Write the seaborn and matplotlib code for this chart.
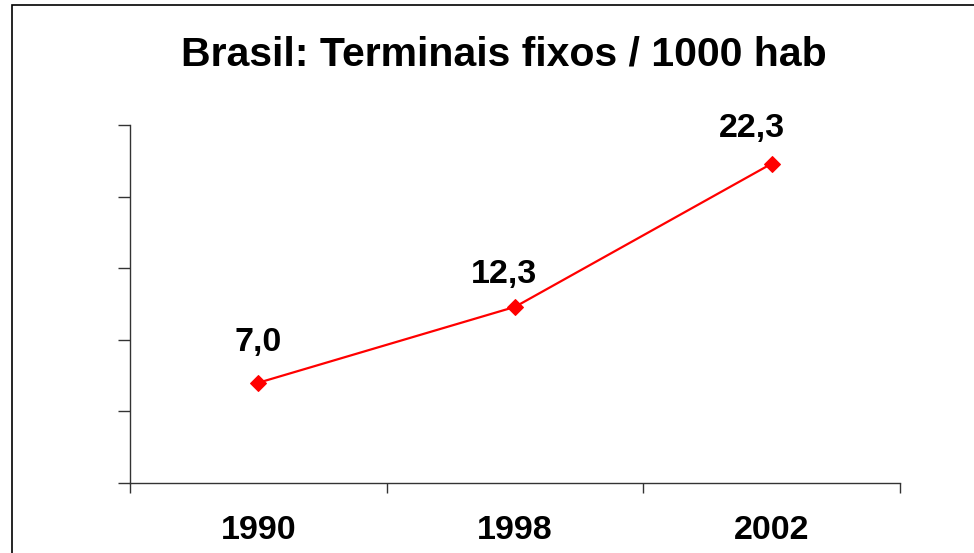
import matplotlib
matplotlib.use("Agg")
import matplotlib.pyplot as plt
from matplotlib.patches import Rectangle
import seaborn as sns
import pandas as pd

# dados do grafico
anos = ['1990', '1998', '2002']
valores = [7.0, 12.3, 22.3]
rotulos = ['7,0', '12,3', '22,3']
titulo = 'Brasil: Terminais fixos / 1000 hab'

sns.set_style("white")
plt.rcParams['font.family'] = ['Liberation Sans', 'DejaVu Sans']
plt.rcParams['text.color'] = 'black'
plt.rcParams['xtick.color'] = 'black'

df = pd.DataFrame({'ano': anos, 'valor': valores})
df['pos'] = range(len(df))

fig = plt.figure(figsize=(9.74, 5.53), dpi=100)
ax = fig.add_axes([130/974, 1-483/553, (900-130)/974, (483-125)/553])

sns.lineplot(data=df, x='pos', y='valor', ax=ax, color='red', linewidth=1.6,
             marker='D', markersize=8, markeredgecolor='red')

# deslocamento dos rotulos (pt)
desloc = [(0, 23), (-8, 17), (-14, 19)]
for i, (v, r) in enumerate(zip(valores, rotulos)):
    ax.annotate(r, (i, v), xytext=desloc[i], textcoords='offset points',
                ha='center', va='baseline', fontsize=24.5, fontweight='bold', color='black')

ax.set_xlim(-0.5, len(anos) - 0.5)
ax.set_ylim(0, 25)
ax.set_yticks(range(0, 26, 5))
ax.set_yticklabels([])
ax.set_xticks([i - 0.5 for i in range(len(anos) + 1)])
ax.set_xticklabels([])
ax.set_xticks(range(len(anos)), minor=True)
ax.set_xticklabels(anos, minor=True, fontsize=24.5, fontweight='bold', color='black')
ax.tick_params(axis='x', which='minor', length=0, pad=23)
ax.tick_params(axis='x', which='major', length=7, width=1, color='#333333', direction='out', bottom=True)
ax.tick_params(axis='y', length=8.5, width=1, color='#333333', direction='out', left=True)
ax.set_xlabel('')
ax.set_ylabel('')

sns.despine(ax=ax)
for s in ['left', 'bottom']:
    ax.spines[s].set_color('#333333')
    ax.spines[s].set_linewidth(1)

fig.text(504/974, 1-65/553, titulo, ha='center', va='baseline', fontsize=29.5,
         fontweight='bold', color='black')

fig.add_artist(Rectangle((12/974, -0.1), 1.2, 1.1 - 5/553, transform=fig.transFigure,
                         fill=False, edgecolor='black', linewidth=1.2))

fig.savefig('out.png', dpi=100)
